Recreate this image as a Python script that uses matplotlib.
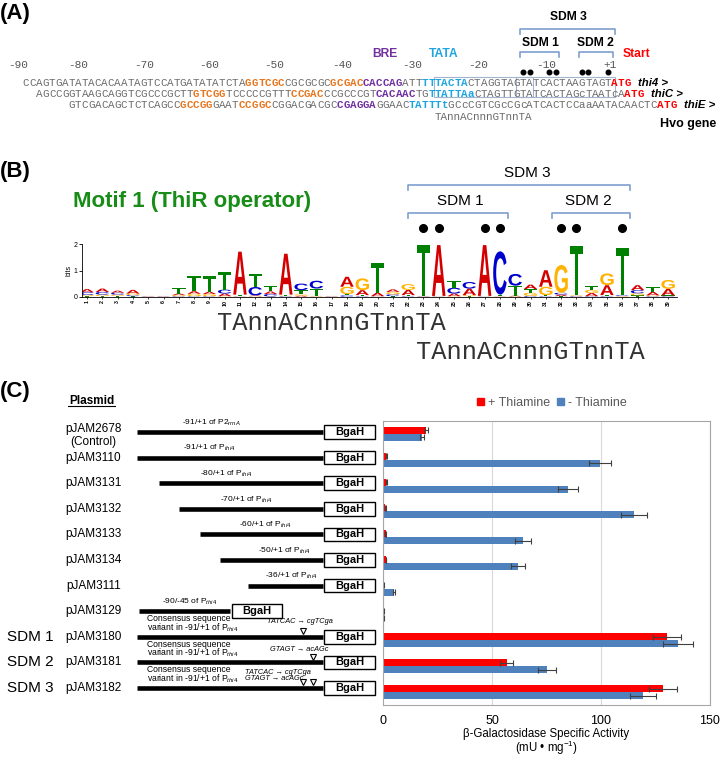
import numpy as np
import matplotlib
matplotlib.use("Agg")
import matplotlib.pyplot as plt
import matplotlib.transforms as mtrans
from matplotlib.patches import Patch, Rectangle, PathPatch
from matplotlib.textpath import TextPath
from matplotlib.font_manager import FontProperties

plt.rcParams['font.family'] = ['Liberation Sans', 'DejaVu Sans']
plt.rcParams['mathtext.fontset'] = 'custom'
plt.rcParams['mathtext.rm'] = 'Liberation Sans'
plt.rcParams['mathtext.it'] = 'Liberation Sans:italic'
plt.rcParams['mathtext.bf'] = 'Liberation Sans:bold'

# ---------------- data ----------------
# (A) promoter sequences, segments with highlight key
seq_thi4 = [("CCAGTGATATACACAATAGTCCATGATATATCTA", "n"), ("GGTCGC", "o"), ("CGCGCGC", "n"),
            ("GCGAC", "o"), ("CACCAG", "p"), ("ATT", "n"), ("TTTACTA", "c"),
            ("CTAGGTAGTATCACTAAGTAGT", "n"), ("ATG", "r")]
seq_thiC = [("AGCCGGTAAGCAGGTCGCCCGCTT", "n"), ("GTCGG", "o"), ("TCCCCCGTTT", "n"),
            ("CCGAC", "o"), ("CCGCCCGT", "n"), ("CACAAC", "p"), ("TG", "n"), ("TTATTAa", "c"),
            ("CTAGTTGTATCACTAGcTAATcA", "n"), ("ATG", "r")]
seq_thiE = [("GTCGACAGCTCTCAGCC", "n"), ("GCCGG", "o"), ("GAAT", "n"), ("CCGGC", "o"),
            ("CGGACGACGC", "n"), ("CGAGGA", "p"), ("GGAAC", "n"), ("TATTTt", "c"),
            ("GCcCGTCGcCGcATCACTCCaaAATACAACTC", "n"), ("ATG", "r")]
seq_rows = [seq_thi4, seq_thiC, seq_thiE]
seq_offset = [0, 2, 7]
gene_names = ["thi4 >", "thiC >", "thiE >"]
ruler_labels = ["-90", "-80", "-70", "-60", "-50", "-40", "-30", "-20", "-10", "+1"]
motif = "TAnnACnnnGTnnTA"

# (B) motif logo, information (bits) per position
logo_A = [.12, .13, .08, .14, .01, .01, .06, .10, .09, .10, 1.64, .03, .10, 1.56, .04, .01, .01, .38, .19, .13,
          .10, .20, .01, 1.94, .10, .25, 1.94, .01, .03, .17, .63, .06, .01, .12, .38, .01, .19, .13, .25]
logo_C = [.10, .10, .07, .04, .01, .01, .02, .02, .02, .15, .01, .32, .09, .02, .25, .30, .01, .05, .02, .01,
          .07, .02, .01, .01, .22, .25, .01, 1.65, .45, .03, .02, .07, .02, .02, .02, .03, .12, .02, .02]
logo_G = [.05, .06, .05, .06, .01, .01, .04, .09, .08, .02, .01, .02, .01, .02, .05, .02, .01, .28, .45, .01,
          .09, .22, .01, .01, .02, .04, .01, .01, .01, .12, .32, 1.06, .02, .12, .45, .02, .08, .03, .34]
logo_T = [.02, .02, .03, .02, .01, .01, .22, .58, .60, .68, .06, .48, .19, .04, .16, .28, .01, .05, .04, 1.13,
          .02, .04, 1.94, .01, .25, .02, .01, .06, .38, .14, .04, .02, 1.88, .13, .04, 1.78, .05, .19, .03]
conserved_pos = [23, 24, 27, 28, 32, 33, 36]

# (C) constructs and beta-galactosidase activity
plasmids = ["pJAM2678\n(Control)", "pJAM3110", "pJAM3131", "pJAM3132", "pJAM3133", "pJAM3134",
            "pJAM3111", "pJAM3129", "pJAM3180", "pJAM3181", "pJAM3182"]
frag_start = [-91, -91, -80, -70, -60, -50, -36, -90, -91, -91, -91]
frag_end = [1, 1, 1, 1, 1, 1, 1, -45, 1, 1, 1]
frag_labels = [r"-91/+1 of P2$_{\mathit{rrnA}}$", r"-91/+1 of P$_{\mathit{thi4}}$", r"-80/+1 of P$_{\mathit{thi4}}$",
               r"-70/+1 of P$_{\mathit{thi4}}$", r"-60/+1 of P$_{\mathit{thi4}}$", r"-50/+1 of P$_{\mathit{thi4}}$",
               r"-36/+1 of P$_{\mathit{thi4}}$", r"-90/-45 of P$_{\mathit{thi4}}$"]
sdm_names = ["SDM 1", "SDM 2", "SDM 3"]
sdm_changes = ["TATCAC → cgTCga", "GTAGT → acAGc", "TATCAC → cgTCga\nGTAGT → acAGc"]
sdm_sites = [[-9], [-4], [-9, -4]]
plus_thiamine = [19.6, 1.5, 1.5, 1.1, 1.3, 1.4, 0.3, 0.2, 130.2, 56.8, 128.4]
plus_err = [1.0, 0.2, 0.2, 0.2, 0.2, 0.2, 0.1, 0.1, 6.5, 3.0, 6.5]
minus_thiamine = [17.8, 99.6, 84.8, 115.0, 64.2, 61.9, 5.0, 0.2, 135.3, 75.2, 119.2]
minus_err = [1.0, 5.2, 4.5, 6.0, 3.5, 3.2, 0.6, 0.1, 7.0, 4.0, 6.0]

# ---------------- layout ----------------
W, H = 720, 757
fig = plt.figure(figsize=(W / 100, H / 100), dpi=100)


def px_axes(l, t, r, b):
    return fig.add_axes([l / W, 1 - b / H, (r - l) / W, (b - t) / H])


ov = px_axes(0, 0, W, H)
ov.set_xlim(0, W)
ov.set_ylim(H, 0)
ov.axis('off')
ov.set_zorder(10)
ov.patch.set_visible(False)

MONO = 'Liberation Mono'
seq_col = {"n": "#6b6b6b", "o": "#e8761e", "p": "#7030a0", "c": "#1ea5e0", "r": "#ff0000"}
brk_col = "#7f9fcf"

for lab, yy in [("(A)", 14), ("(B)", 171), ("(C)", 392)]:
    ov.text(0, yy, lab, fontsize=16, weight='bold', ha='left', va='center')

# ---- panel A ----
CW, X0 = 6.54, 22.7
axA = px_axes(0, 0, W, 130)
axA.set_xlim(-X0 / CW, (W - X0) / CW)
axA.set_ylim(130, 0)
axA.axis('off')

ruler_x = [-0.75, 8.5, 18.5, 28.5, 38.4, 48.8, 59.6, 69.6, 80.1, 89.8]
for lab, xx in zip(ruler_labels, ruler_x):
    axA.text(xx, 65, lab, family=MONO, fontsize=8, color='#555555', ha='center', va='center')

row_y = [83, 94, 104.5]
for segs, off, yy, gname in zip(seq_rows, seq_offset, row_y, gene_names):
    i = off
    for s, k in segs:
        for ch in s:
            axA.text(i + 0.5, yy, ch, family=MONO, fontsize=7.85, color=seq_col[k],
                     weight='normal' if k == "n" else 'bold', ha='center', va='center')
            i += 1
    axA.text(i + 1.1, yy, gname, fontsize=8.2, weight='bold', style='italic', ha='left', va='center')
axA.text(63, 117.5, motif, family=MONO, fontsize=7.85, color='#6b6b6b', ha='left', va='center')

for x0, x1 in [(62.9, 78.0), (75.5, 90.6)]:
    axA.add_patch(Rectangle((x0, 76.5), x1 - x0, 20.5, fill=False, ec='#a3b4cf', lw=0.8))


def bracket(ax, x0, x1, y, h, trans=None, lw=1.2):
    kw = {} if trans is None else {'transform': trans}
    ax.plot([x0, x0, x1, x1], [y + h, y, y, y + h], color=brk_col, lw=lw, clip_on=False, **kw)


bracket(axA, 76.0, 90.6, 29, 5)
bracket(axA, 76.0, 82.0, 51.7, 5)
bracket(axA, 85.0, 90.3, 51.7, 5)
axA.plot([p + 53 + 0.5 for p in conserved_pos], [71.7] * len(conserved_pos), 'o', color='black', ms=3.3)

ov.text(568.5, 17, "SDM 3", fontsize=8.7, weight='bold', ha='center', va='center')
ov.text(540, 43, "SDM 1", fontsize=8.7, weight='bold', ha='center', va='center')
ov.text(595, 43, "SDM 2", fontsize=8.7, weight='bold', ha='center', va='center')
ov.text(384.5, 54, "BRE", fontsize=8.7, weight='bold', color=seq_col["p"], ha='center', va='center')
ov.text(443.5, 54, "TATA", fontsize=8.7, weight='bold', color=seq_col["c"], ha='center', va='center')
ov.text(636, 54, "Start", fontsize=8.7, weight='bold', color=seq_col["r"], ha='center', va='center')
ov.text(688, 124, "Hvo gene", fontsize=9, weight='bold', ha='center', va='center')

# ---- panel B ----
ov.text(192.5, 201.7, "Motif 1 (ThiR operator)", fontsize=16, weight='bold', color='#178c17',
        ha='center', va='center')

axL = px_axes(81.7, 244.3, 677.3, 296.7)
axL.set_xlim(0.65, 39.6)
axL.set_ylim(0, 2)
for sp in ['top', 'right']:
    axL.spines[sp].set_visible(False)
axL.spines['left'].set_linewidth(0.6)
axL.spines['bottom'].set_linewidth(0.6)
axL.set_yticks([0, 1, 2])
axL.set_xticks(np.arange(1, 40))
axL.set_xticklabels([str(p) for p in range(1, 40)], rotation=90, fontsize=3.8, weight='bold')
axL.tick_params(axis='y', labelsize=5, length=2, width=0.6, pad=1)
axL.tick_params(axis='x', length=1.2, width=0.5, pad=1)
axL.set_ylabel("bits", fontsize=5, labelpad=1)

logo_colors = {"A": "#d40000", "C": "#0000cc", "G": "#ffb300", "T": "#008000"}
fp_logo = FontProperties(family='Liberation Sans', weight='bold')
glyphs = {ch: TextPath((0, 0), ch, size=1, prop=fp_logo) for ch in "ACGT"}


def draw_letter(ax, ch, xc, y0, h, w=0.88):
    tp = glyphs[ch]
    bb = tp.get_extents()
    tr = (mtrans.Affine2D().translate(-bb.x0, -bb.y0)
          .scale(w / bb.width, h / bb.height).translate(xc - w / 2, y0))
    ax.add_patch(PathPatch(tr.transform_path(tp), fc=logo_colors[ch], ec='none', lw=0))


for p in range(39):
    stack = sorted(zip([logo_A[p], logo_C[p], logo_G[p], logo_T[p]], "ACGT"))
    base = 0.0
    for h, ch in stack:
        if h > 0:
            draw_letter(axL, ch, p + 1, base, h)
            base += h

bt = mtrans.blended_transform_factory(axL.transData, ov.transData)
ov.text(9.5, 322.7, motif, family=MONO, fontsize=18.3, color='#333333', ha='left', va='center', transform=bt)
ov.text(22.5, 351.7, motif, family=MONO, fontsize=18.3, color='#333333', ha='left', va='center', transform=bt)
bracket(ov, 22.0, 36.5, 185, 5, trans=bt)
bracket(ov, 22.0, 28.5, 212.7, 5, trans=bt)
bracket(ov, 31.4, 36.5, 212.7, 5, trans=bt)
ov.text(29.76, 172.7, "SDM 3", fontsize=11, ha='center', va='center', transform=bt)
ov.text(25.4, 200.7, "SDM 1", fontsize=11, ha='center', va='center', transform=bt)
ov.text(33.8, 200.7, "SDM 2", fontsize=11, ha='center', va='center', transform=bt)
ov.plot(conserved_pos, [228.3] * len(conserved_pos), 'o', color='black', ms=5.5, transform=bt)

# ---- panel C: constructs ----
PX_NT = 2.02
axC = px_axes(130, 419.2, 378, 700.8)
axC.set_xlim(-91 - 7 / PX_NT, -91 + 241 / PX_NT)
axC.set_ylim(10.5, -0.5)
axC.axis('off')
ct = mtrans.blended_transform_factory(ov.transData, axC.transData)

ov.text(91.5, 400.5, "Plasmid", fontsize=8.5, weight='bold', ha='center', va='center')
ov.plot([68, 115], [405.5, 405.5], color='black', lw=0.8)

label_x = [-54, -55.4, -47, -36.7, -27.6, -18.2, -14.8, -64.8]
for k, (name, s, e) in enumerate(zip(plasmids, frag_start, frag_end)):
    axC.plot([s, e], [k, k], color='black', lw=3.3, solid_capstyle='butt')
    axC.add_patch(Rectangle((e + 0.8, k - 0.265), 25, 0.53, fc='white', ec='black', lw=1.0))
    axC.text(e + 13.3, k, "BgaH", fontsize=8, weight='bold', ha='center', va='center')
    yk = k + 0.14 if k == 0 else k
    ov.text(93.5, yk, name, fontsize=8.5, ha='center', va='center', linespacing=1.05, transform=ct)
    if k < len(frag_labels):
        axC.text(label_x[k], k - 0.36, frag_labels[k], fontsize=6, ha='center', va='center')

for j, (nm, chg, sites) in enumerate(zip(sdm_names, sdm_changes, sdm_sites)):
    k = 8 + j
    ov.text(7, k, nm, fontsize=11, ha='left', va='center', transform=ct)
    axC.text(-86, k - 0.5, "Consensus sequence\n" + r"variant in -91/+1 of P$_{\mathit{thi4}}$",
             fontsize=6.2, ha='left', va='center', linespacing=0.8)
    if j < 2:
        axC.text([-10.3, -10.8][j], k - [0.61, 0.5][j], chg, fontsize=5.3, style='italic',
                 ha='center', va='center')
    else:
        axC.text(-37.5, k - 0.5, chg, fontsize=5.3, style='italic', ha='left', va='center',
                 linespacing=0.85)
    axC.plot(sites, [k - 0.22] * len(sites), 'v', ms=5, mfc='white', mec='black', mew=0.8)

# ---- panel C: activity bars ----
axB = px_axes(383, 421, 710, 705)
yy = np.arange(len(plasmids))
ekw = dict(ecolor='#404040', elinewidth=0.8, capsize=2.5, capthick=0.8)
axB.barh(yy - 0.135, plus_thiamine, height=0.27, color='#ff0000', xerr=plus_err, error_kw=ekw)
axB.barh(yy + 0.135, minus_thiamine, height=0.27, color='#4f81bd', xerr=minus_err, error_kw=ekw)
axB.set_xlim(0, 150)
axB.set_ylim(10.5, -0.5)
axB.set_yticks([])
axB.set_xticks([0, 50, 100, 150])
axB.tick_params(axis='x', length=0, labelsize=9, pad=7)
axB.set_axisbelow(True)
axB.grid(axis='x', color='#d9d9d9', lw=0.8)
for sp in axB.spines.values():
    sp.set_color('#a6a6a6')
xt = mtrans.blended_transform_factory(axB.transAxes, ov.transData)
ov.text(0.5, 734, "β-Galactosidase Specific Activity", fontsize=8.3, ha='center', va='center', transform=xt)
ov.text(0.5, 747.5, "(mU • mg$^{-1}$)", fontsize=8.3, ha='center', va='center', transform=xt)
handles = [Patch(color='#ff0000'), Patch(color='#4f81bd')]
axB.legend(handles, ['+ Thiamine', '- Thiamine'], loc='center', bbox_to_anchor=(0.517, 1 + 18 / 284),
           ncol=2, frameon=False, fontsize=9, handlelength=0.55, handleheight=0.55, handletextpad=0.3,
           columnspacing=0.6, labelcolor='#595959')

fig.savefig("out.png", dpi=100)
